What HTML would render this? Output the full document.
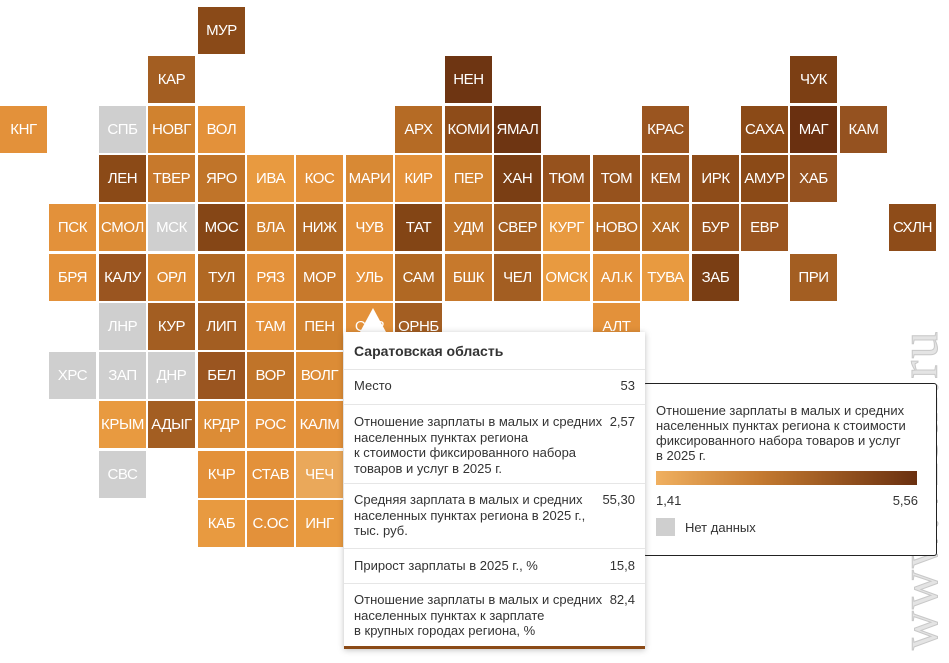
<!DOCTYPE html>
<html><head><meta charset="utf-8"><style>
body{margin:0;width:949px;height:663px;background:#fff;position:relative;overflow:hidden;font-family:"Liberation Sans",sans-serif}
.c{position:absolute;width:47px;height:47px;color:#fff;font-size:15px;line-height:47px;text-align:center;letter-spacing:-0.4px;white-space:nowrap;overflow:hidden}
.g{background:#cfcfcf}
#tt{position:absolute;left:344px;top:332px;width:301px;height:314px;background:#fff;box-shadow:0 1px 6px rgba(0,0,0,.25);font-size:13px;color:#333;border-bottom:3px solid #8b4a17}
#tt .r{position:absolute;left:0;width:301px;border-top:1px solid #e6e6e6}
#tt .l{position:absolute;left:10px;line-height:15.5px;white-space:nowrap}
#tt .v{position:absolute;right:10px;line-height:15.5px}
#lg{position:absolute;left:643px;top:383px;width:292px;height:171px;border:1px solid #222;border-radius:3px;background:#fff;font-size:13px;color:#333}
</style></head><body>
<div class="c" style="left:198px;top:7px;background:#8a4a18">МУР</div>
<div class="c" style="left:148px;top:56px;background:#a35e22">КАР</div>
<div class="c" style="left:445px;top:56px;background:#6e3512">НЕН</div>
<div class="c" style="left:790px;top:56px;background:#7c3f14">ЧУК</div>

<div class="c" style="left:0px;top:106px;background:#e3913a">КНГ</div>
<div class="c g" style="left:99px;top:106px">СПБ</div>
<div class="c" style="left:148px;top:106px;background:#d0822f">НОВГ</div>
<div class="c" style="left:198px;top:106px;background:#e3913a">ВОЛ</div>
<div class="c" style="left:395px;top:106px;background:#b56b25">АРХ</div>
<div class="c" style="left:445px;top:106px;background:#8e4c19">КОМИ</div>
<div class="c" style="left:494px;top:106px;background:#6e3512">ЯМАЛ</div>
<div class="c" style="left:642px;top:106px;background:#9a5520">КРАС</div>
<div class="c" style="left:741px;top:106px;background:#8b4a17">САХА</div>
<div class="c" style="left:790px;top:106px;background:#6a3010">МАГ</div>
<div class="c" style="left:840px;top:106px;background:#955220">КАМ</div>

<div class="c" style="left:99px;top:155px;background:#8b4a17">ЛЕН</div>
<div class="c" style="left:148px;top:155px;background:#c7792c">ТВЕР</div>
<div class="c" style="left:198px;top:155px;background:#c07429">ЯРО</div>
<div class="c" style="left:247px;top:155px;background:#e89a40">ИВА</div>
<div class="c" style="left:296px;top:155px;background:#e3913a">КОС</div>
<div class="c" style="left:346px;top:155px;background:#d88934">МАРИ</div>
<div class="c" style="left:395px;top:155px;background:#e3913a">КИР</div>
<div class="c" style="left:445px;top:155px;background:#d0822f">ПЕР</div>
<div class="c" style="left:494px;top:155px;background:#7a3e14">ХАН</div>
<div class="c" style="left:543px;top:155px;background:#96521d">ТЮМ</div>
<div class="c" style="left:593px;top:155px;background:#96521d">ТОМ</div>
<div class="c" style="left:642px;top:155px;background:#9a5520">КЕМ</div>
<div class="c" style="left:692px;top:155px;background:#8e4c19">ИРК</div>
<div class="c" style="left:741px;top:155px;background:#8b4a17">АМУР</div>
<div class="c" style="left:790px;top:155px;background:#955220">ХАБ</div>

<div class="c" style="left:49px;top:204px;background:#e3913a">ПСК</div>
<div class="c" style="left:99px;top:204px;background:#dc8c36">СМОЛ</div>
<div class="c g" style="left:148px;top:204px">МСК</div>
<div class="c" style="left:198px;top:204px;background:#854616">МОС</div>
<div class="c" style="left:247px;top:204px;background:#d0822f">ВЛА</div>
<div class="c" style="left:296px;top:204px;background:#b06823">НИЖ</div>
<div class="c" style="left:346px;top:204px;background:#e3913a">ЧУВ</div>
<div class="c" style="left:395px;top:204px;background:#834515">ТАТ</div>
<div class="c" style="left:445px;top:204px;background:#c07429">УДМ</div>
<div class="c" style="left:494px;top:204px;background:#a35e22">СВЕР</div>
<div class="c" style="left:543px;top:204px;background:#e89a40">КУРГ</div>
<div class="c" style="left:593px;top:204px;background:#b56b25">НОВО</div>
<div class="c" style="left:642px;top:204px;background:#b06823">ХАК</div>
<div class="c" style="left:692px;top:204px;background:#96521d">БУР</div>
<div class="c" style="left:741px;top:204px;background:#9a5520">ЕВР</div>
<div class="c" style="left:889px;top:204px;background:#8e4c19">СХЛН</div>

<div class="c" style="left:49px;top:254px;background:#e3913a">БРЯ</div>
<div class="c" style="left:99px;top:254px;background:#9a5520">КАЛУ</div>
<div class="c" style="left:148px;top:254px;background:#dc8c36">ОРЛ</div>
<div class="c" style="left:198px;top:254px;background:#b06823">ТУЛ</div>
<div class="c" style="left:247px;top:254px;background:#e3913a">РЯЗ</div>
<div class="c" style="left:296px;top:254px;background:#c7792c">МОР</div>
<div class="c" style="left:346px;top:254px;background:#e3913a">УЛЬ</div>
<div class="c" style="left:395px;top:254px;background:#b06823">САМ</div>
<div class="c" style="left:445px;top:254px;background:#c7792c">БШК</div>
<div class="c" style="left:494px;top:254px;background:#a35e22">ЧЕЛ</div>
<div class="c" style="left:543px;top:254px;background:#e89a40">ОМСК</div>
<div class="c" style="left:593px;top:254px;background:#e3913a">АЛ.К</div>
<div class="c" style="left:642px;top:254px;background:#e89a40">ТУВА</div>
<div class="c" style="left:692px;top:254px;background:#7a3e14">ЗАБ</div>
<div class="c" style="left:790px;top:254px;background:#a35e22">ПРИ</div>

<div class="c g" style="left:99px;top:303px">ЛНР</div>
<div class="c" style="left:148px;top:303px;background:#a35e22">КУР</div>
<div class="c" style="left:198px;top:303px;background:#a35e22">ЛИП</div>
<div class="c" style="left:247px;top:303px;background:#e3913a">ТАМ</div>
<div class="c" style="left:296px;top:303px;background:#d0822f">ПЕН</div>
<div class="c" style="left:346px;top:303px;background:#e3913a">САР</div>
<div class="c" style="left:395px;top:303px;background:#a35e22">ОРНБ</div>
<div class="c" style="left:593px;top:303px;background:#e3913a">АЛТ</div>

<div class="c g" style="left:49px;top:352px">ХРС</div>
<div class="c g" style="left:99px;top:352px">ЗАП</div>
<div class="c g" style="left:148px;top:352px">ДНР</div>
<div class="c" style="left:198px;top:352px;background:#9a5520">БЕЛ</div>
<div class="c" style="left:247px;top:352px;background:#c07429">ВОР</div>
<div class="c" style="left:296px;top:352px;background:#dc8c36">ВОЛГ</div>

<div class="c" style="left:99px;top:401px;background:#e89a40">КРЫМ</div>
<div class="c" style="left:148px;top:401px;background:#a35e22">АДЫГ</div>
<div class="c" style="left:198px;top:401px;background:#dc8c36">КРДР</div>
<div class="c" style="left:247px;top:401px;background:#e3913a">РОС</div>
<div class="c" style="left:296px;top:401px;background:#e3913a">КАЛМ</div>

<div class="c g" style="left:99px;top:451px">СВС</div>
<div class="c" style="left:198px;top:451px;background:#e3913a">КЧР</div>
<div class="c" style="left:247px;top:451px;background:#e3913a">СТАВ</div>
<div class="c" style="left:296px;top:451px;background:#eaa85a">ЧЕЧ</div>

<div class="c" style="left:198px;top:500px;background:#e89a40">КАБ</div>
<div class="c" style="left:247px;top:500px;background:#e3913a">С.ОС</div>
<div class="c" style="left:296px;top:500px;background:#e89a40">ИНГ</div>

<div style="position:absolute;left:888px;top:650px;transform:rotate(-90deg);transform-origin:0 0;font-family:'Liberation Serif',serif;font-size:54px;color:#e4e4e4;white-space:nowrap;letter-spacing:2px;-webkit-text-stroke:1px #c8c8c8">www.vzsar.ru</div>

<div id="lg">
<div style="position:absolute;left:12px;top:19px;line-height:15px;white-space:nowrap">Отношение зарплаты в малых и средних<br>населенных пунктах региона к стоимости<br>фиксированного набора товаров и услуг<br>в 2025 г.</div>
<div style="position:absolute;left:12px;top:87px;width:261px;height:14px;background:linear-gradient(to right,#f0b060,#c47a30 40%,#6a3010)"></div>
<div style="position:absolute;left:12px;top:109px">1,41</div>
<div style="position:absolute;right:18px;top:109px">5,56</div>
<div style="position:absolute;left:12px;top:134px;width:19px;height:18px;background:#cfcfcf"></div>
<div style="position:absolute;left:41px;top:136px">Нет данных</div>
</div>

<div style="position:absolute;left:360px;top:308px;width:0;height:0;border-left:13px solid transparent;border-right:13px solid transparent;border-bottom:24px solid #fff"></div>
<div id="tt">
<div style="position:absolute;left:10px;top:11px;font-weight:bold;font-size:14px">Саратовская область</div>
<div class="r" style="top:37px"></div>
<div class="l" style="top:46px">Место</div><div class="v" style="top:46px">53</div>
<div class="r" style="top:72px"></div>
<div class="l" style="top:82px">Отношение зарплаты в малых и средних<br>населенных пунктах региона<br>к стоимости фиксированного набора<br>товаров и услуг в 2025 г.</div><div class="v" style="top:82px">2,57</div>
<div class="r" style="top:151px"></div>
<div class="l" style="top:160px">Средняя зарплата в малых и средних<br>населенных пунктах региона в 2025 г.,<br>тыс. руб.</div><div class="v" style="top:160px">55,30</div>
<div class="r" style="top:216px"></div>
<div class="l" style="top:226px">Прирост зарплаты в 2025 г., %</div><div class="v" style="top:226px">15,8</div>
<div class="r" style="top:251px"></div>
<div class="l" style="top:260px">Отношение зарплаты в малых и средних<br>населенных пунктах к зарплате<br>в крупных городах региона, %</div><div class="v" style="top:260px">82,4</div>
</div>
</body></html>
